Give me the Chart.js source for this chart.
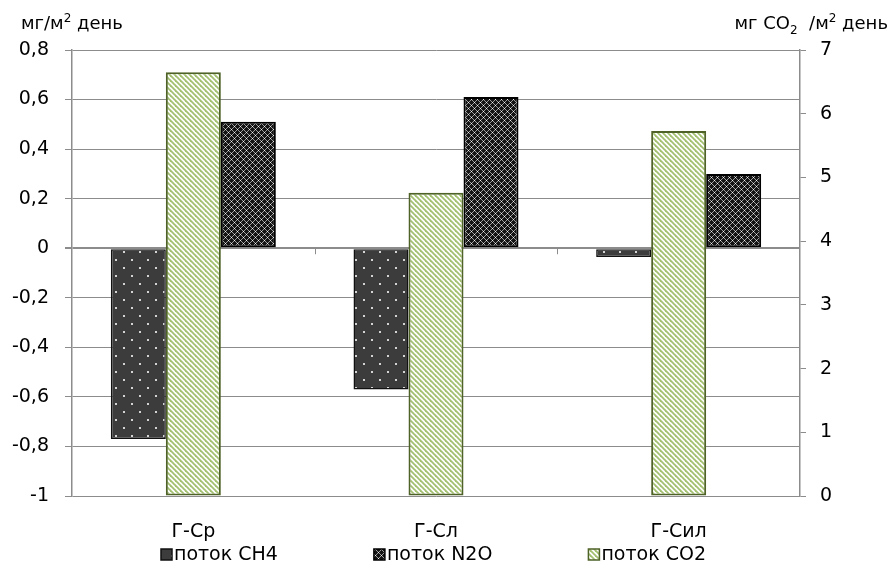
<!DOCTYPE html>
<html>
<head>
<meta charset="utf-8">
<script src="https://cdn.jsdelivr.net/npm/chart.js@4/dist/chart.umd.min.js"></script>
<style>
  html, body { margin: 0; padding: 0; background: #fff; }
  #wrap { width: 894px; height: 571px; }
</style>
</head>
<body>
<div id="wrap"><canvas id="chart" width="894" height="571"></canvas></div>
<script>
// категории и значения
const categories = ["Г-Ср", "Г-Сл", "Г-Сил"];
const ch4Flux = [-0.77, -0.57, -0.035];   // мг/м2 день, левая ось
const n2oFlux = [0.51, 0.61, 0.30];       // мг/м2 день, левая ось
const co2Flux = [6.65, 4.76, 5.73];       // мг CO2/м2 день, правая ось
const leftTicks = { min: -1, max: 0.8, step: 0.2 };
const rightTicks = { min: 0, max: 7, step: 1 };
const legendOrder = ["поток CH4", "поток N2O", "поток CO2"];

const FONT = "'DejaVu Sans', sans-serif";
const FS = 19;
const GRID = "#8c8c8c";

function makePattern(size, draw) {
  const c = document.createElement("canvas");
  c.width = size;
  c.height = size;
  const g = c.getContext("2d");
  draw(g, size);
  return document.getElementById("chart").getContext("2d").createPattern(c, "repeat");
}

// точки на тёмно-сером
const dotsPattern = makePattern(16, (g) => {
  g.fillStyle = "#3c3c3c";
  g.fillRect(0, 0, 16, 16);
  g.fillStyle = "#d4d4d4";
  g.fillRect(3, 3, 2, 2);
  g.fillRect(11, 11, 2, 2);
});

// ромбическая решётка на чёрном
const latticePattern = makePattern(6, (g) => {
  g.fillStyle = "#141414";
  g.fillRect(0, 0, 6, 6);
  for (let x = 0; x < 6; x++) {
    for (let y = 0; y < 6; y++) {
      const a = (x + y) % 6 === 0;
      const b = (x - y + 6) % 6 === 0;
      if (a && b) {
        g.fillStyle = "#f0f0f0";
        g.fillRect(x, y, 1, 1);
      } else if (a || b) {
        g.fillStyle = "#9a9a9a";
        g.fillRect(x, y, 1, 1);
      }
    }
  }
});

// зелёная косая штриховка
const stripePattern = makePattern(5, (g) => {
  g.fillStyle = "#ffffff";
  g.fillRect(0, 0, 5, 5);
  g.strokeStyle = "#a3c070";
  g.lineWidth = 1.8;
  for (let o = -5; o <= 5; o += 5) {
    g.beginPath();
    g.moveTo(o - 1, -1);
    g.lineTo(o + 6, 6);
    g.stroke();
  }
});

function fmt(v) {
  const r = Math.round(v * 10) / 10;
  return String(r).replace(".", ",");
}

function drawRich(ctx, parts, x, y, align) {
  let total = 0;
  parts.forEach((p) => {
    ctx.font = p.size + "px " + FONT;
    p.w = ctx.measureText(p.t).width;
    total += p.w;
  });
  let cx = align === "right" ? x - total : x;
  parts.forEach((p) => {
    ctx.font = p.size + "px " + FONT;
    ctx.fillText(p.t, cx, y + (p.dy || 0));
    cx += p.w;
  });
}

const extras = {
  id: "extras",
  afterDraw(chart) {
    const ctx = chart.ctx;
    const xs = chart.scales.x;
    const y0 = chart.scales.y.getPixelForValue(0);
    ctx.save();
    // засечки категорий на нулевой линии
    ctx.strokeStyle = GRID;
    ctx.lineWidth = 1;
    const step = xs.width / categories.length;
    for (let i = 1; i < categories.length; i++) {
      const px = Math.round(xs.left + step * i) + 0.5;
      ctx.beginPath();
      ctx.moveTo(px, y0);
      ctx.lineTo(px, y0 + 6);
      ctx.stroke();
    }
    // подписи осей
    ctx.fillStyle = "#000";
    ctx.textBaseline = "alphabetic";
    ctx.textAlign = "left";
    drawRich(ctx, [
      { t: "мг/м", size: 18 },
      { t: "2", size: 12, dy: -7 },
      { t: " день", size: 18 }
    ], 21, 29, "left");
    drawRich(ctx, [
      { t: "мг CO", size: 18 },
      { t: "2", size: 12, dy: 5 },
      { t: "  /м", size: 18 },
      { t: "2", size: 12, dy: -7 },
      { t: " день", size: 18 }
    ], 888, 29, "right");

    // легенда
    ctx.font = FS + "px " + FONT;
    ctx.textBaseline = "middle";
    let lx = 161;
    const ly = 555;
    legendOrder.forEach((name) => {
      const ds = chart.data.datasets.find((d) => d.label === name);
      ctx.fillStyle = ds.backgroundColor;
      ctx.fillRect(lx, ly - 6, 11, 11);
      ctx.strokeStyle = ds.borderColor;
      ctx.lineWidth = 1.5;
      ctx.strokeRect(lx, ly - 6, 11, 11);
      ctx.fillStyle = "#000";
      ctx.fillText(name, lx + 13, ly);
      lx += 13 + ctx.measureText(name).width + 96;
    });
    ctx.restore();
  }
};

new Chart(document.getElementById("chart"), {
  type: "bar",
  data: {
    labels: categories,
    datasets: [
      {
        label: "поток CH4",
        data: ch4Flux,
        yAxisID: "y",
        backgroundColor: dotsPattern,
        borderColor: "#111",
        borderWidth: 1.5,
        borderSkipped: false
      },
      {
        label: "поток CO2",
        data: co2Flux,
        yAxisID: "y1",
        backgroundColor: stripePattern,
        borderColor: "#4f6228",
        borderWidth: 2,
        borderSkipped: false
      },
      {
        label: "поток N2O",
        data: n2oFlux,
        yAxisID: "y",
        backgroundColor: latticePattern,
        borderColor: "#000",
        borderWidth: 2,
        borderSkipped: false
      }
    ]
  },
  options: {
    responsive: false,
    animation: false,
    devicePixelRatio: 1,
    layout: { padding: { top: 50, bottom: 0, left: 0, right: 0 } },
    datasets: {
      bar: { categoryPercentage: 0.68, barPercentage: 1.0 }
    },
    plugins: {
      tooltip: { enabled: false },
      legend: { display: false }
    },
    scales: {
      x: {
        grid: { display: false },
        border: { display: false },
        ticks: { font: { family: FONT, size: FS }, color: "#000", padding: 17 },
        afterFit: (s) => { s.height = 75; }
      },
      y: {
        position: "left",
        min: leftTicks.min,
        max: leftTicks.max,
        ticks: {
          stepSize: leftTicks.step,
          font: { family: FONT, size: FS },
          color: "#000",
          padding: 16,
          callback: (v) => fmt(v)
        },
        grid: {
          color: GRID,
          lineWidth: (c) => (c.tick && Math.abs(c.tick.value) < 1e-9 ? 2 : 1),
          tickLength: 7
        },
        border: { color: GRID, width: 1.5 },
        afterFit: (s) => { s.width = 72; }
      },
      y1: {
        position: "right",
        min: rightTicks.min,
        max: rightTicks.max,
        ticks: {
          stepSize: rightTicks.step,
          font: { family: FONT, size: FS },
          color: "#000",
          padding: 14,
          callback: (v) => fmt(v)
        },
        grid: { drawOnChartArea: false, color: GRID, tickLength: 6 },
        border: { color: GRID, width: 1.5 },
        afterFit: (s) => { s.width = 94; }
      }
    }
  },
  plugins: [extras]
});
</script>
</body>
</html>
